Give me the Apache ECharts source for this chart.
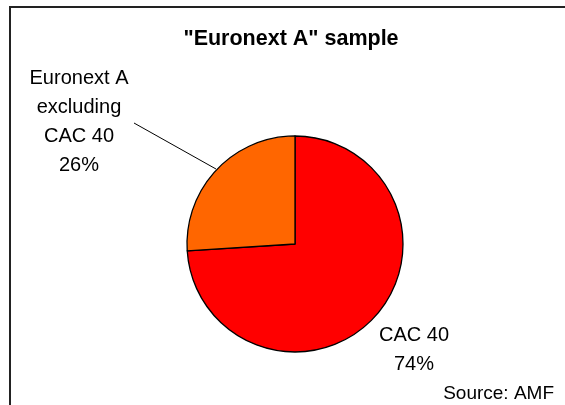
<!DOCTYPE html>
<html>
<head>
<meta charset="utf-8">
<script src="https://cdn.jsdelivr.net/npm/echarts@6/dist/echarts.min.js"></script>
<style>
html,body{margin:0;padding:0;background:#fff;}
#chart{width:565px;height:405px;}
</style>
</head>
<body>
<div id="chart"></div>
<script>
const titleText = '"Euronext A" sample';
const sourceText = 'Source: AMF';
const categories = ['CAC 40', 'Euronext A\nexcluding\nCAC 40'];
const values = [74, 26];
const colors = ['#FF0000', '#FF6600'];

const FONT = '"Liberation Sans", Arial, sans-serif';
const chart = echarts.init(document.getElementById('chart'), null, {renderer: 'canvas'});

const labelPos = [
  {x: 414, y: 350},
  {x: 79, y: 122}
];

chart.setOption({
  animation: false,
  backgroundColor: '#fff',
  title: [
    {
      text: titleText,
      left: 286,
      top: 23,
      textAlign: 'center',
      textStyle: {fontFamily: FONT, fontSize: 21.5, fontWeight: 'bold', color: '#000'}
    },
    {
      text: sourceText,
      right: 6,
      bottom: -3,
      textStyle: {fontFamily: FONT, fontSize: 19, fontWeight: 'normal', color: '#000'}
    }
  ],
  graphic: [
    {
      type: 'rect',
      shape: {x: 10, y: 7, width: 700, height: 600},
      style: {fill: 'none', stroke: '#222', lineWidth: 2},
      silent: true
    }
  ],
  series: [
    {
      type: 'pie',
      center: [295, 244],
      radius: 108,
      startAngle: 90,
      clockwise: true,
      avoidLabelOverlap: false,
      itemStyle: {borderColor: '#000', borderWidth: 1.3},
      label: {
        show: true,
        formatter: p => p.name + '\n' + p.value + '%',
        fontFamily: FONT,
        fontSize: 20,
        lineHeight: 29,
        color: '#000',
        align: 'center'
      },
      labelLine: {show: true, lineStyle: {color: '#000', width: 1}},
      labelLayout: function (params) {
        const i = params.dataIndex;
        const res = {x: labelPos[i].x, y: labelPos[i].y, align: 'center', verticalAlign: 'middle'};
        if (i === 1) {
          res.labelLinePoints = [[216, 169], [175, 146], [134, 123]];
        }
        return res;
      },
      data: categories.map((c, i) => ({
        name: c,
        value: values[i],
        itemStyle: {color: colors[i]},
        labelLine: {show: i === 1}
      }))
    }
  ]
});
</script>
</body>
</html>
